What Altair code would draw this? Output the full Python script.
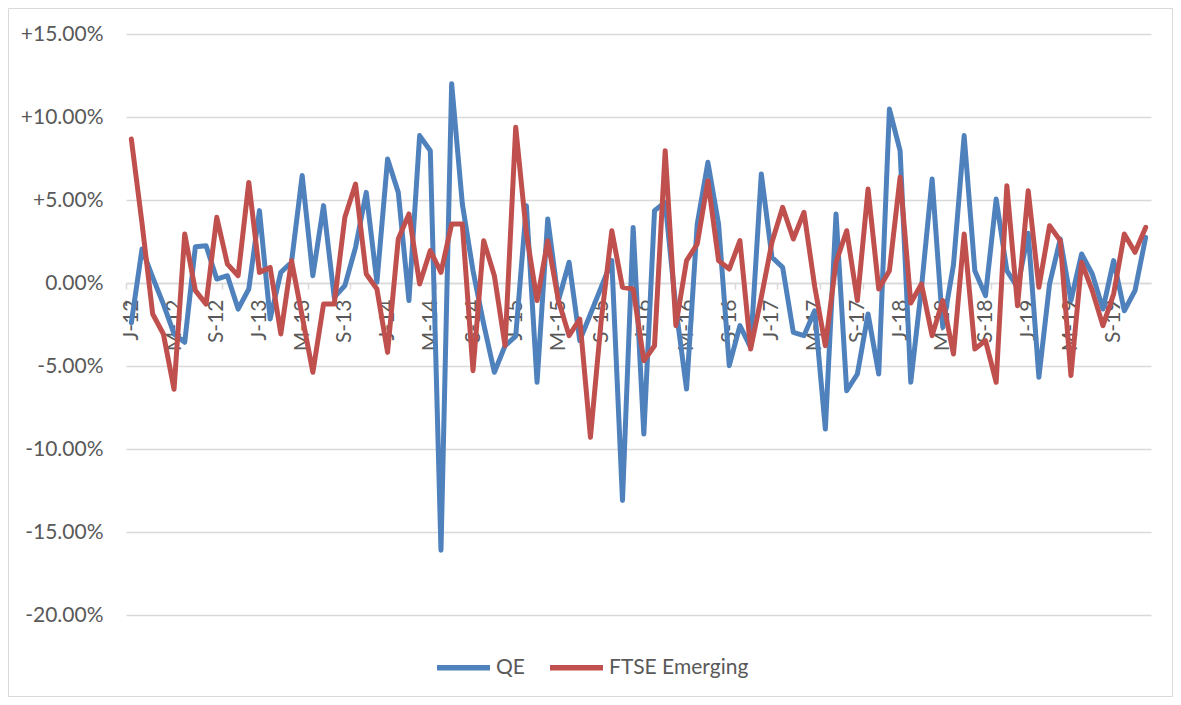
import altair as alt
import pandas as pd

month_abbr = ["Jan", "Feb", "Mar", "Apr", "May", "Jun", "Jul", "Aug", "Sep", "Oct", "Nov", "Dec"]
years = ["12", "13", "14", "15", "16", "17", "18", "19"]
categories = [m + "-" + y for y in years for m in month_abbr]

qe = [
    -2.4, 2.05, 0.34, -1.27, -3.07, -3.57, 2.19, 2.25, 0.24, 0.44, -1.57, -0.36,
    4.36, -2.17, 0.64, 1.25, 6.47, 0.44, 4.66, -0.86, -0.16, 2.15, 5.46, 0.04,
    7.47, 5.46, -1.06, 8.88, 7.97, -16.1, 12.0, 4.76, 0.74, -2.47, -5.38, -3.78,
    -3.2, 4.66, -5.98, 3.86, -1.06, 1.25, -3.47, -1.87, -0.26, 1.35, -13.1, 3.35,
    -9.1, 4.36, 4.86, -1.5, -6.39, 3.55, 7.27, 3.55, -4.98, -2.57, -3.88, 6.57,
    1.55, 0.94, -2.97, -3.17, -1.67, -8.8, 4.16, -6.49, -5.48, -1.87, -5.48, 10.48,
    7.97, -5.98, -0.3, 6.27, -2.67, 1.1, 8.88, 0.74, -0.76, 5.06, 0.74, -0.26,
    3.0, -5.68, -0.06, 2.65, -1.06, 1.75, 0.54, -1.57, 1.35, -1.67, -0.46, 2.75,
]
ftse = [
    8.67, 3.6, -1.87, -3.07, -6.4, 2.95, -0.46, -1.27, 3.96, 1.14, 0.44, 6.06,
    0.64, 0.94, -3.07, 1.35, -2.0, -5.38, -1.27, -1.27, 3.96, 5.96, 0.54, -0.36,
    -4.18, 2.65, 4.16, -0.06, 1.95, 0.64, 3.55, 3.55, -5.28, 2.55, 0.44, -3.78,
    9.38, 3.0, -1.06, 2.55, -1.06, -3.17, -2.17, -9.3, -2.3, 3.15, -0.26, -0.36,
    -4.68, -3.78, 7.97, -2.57, 1.35, 2.35, 6.16, 1.35, 0.84, 2.55, -3.98, -0.86,
    2.45, 4.56, 2.65, 4.26, -0.2, -3.78, 1.25, 3.15, -1.06, 5.66, -0.36, 0.74,
    6.37, -1.2, -0.06, -3.17, -1.06, -4.28, 2.95, -3.98, -3.47, -5.98, 5.86, -1.37,
    5.56, -0.26, 3.45, 2.55, -5.58, 1.25, -0.46, -2.57, -0.66, 2.95, 1.85, 3.35,
]
series_names = ["QE", "FTSE Emerging"]
series_colors = ["#4F81BD", "#C0504D"]
y_ticks = [15, 10, 5, 0, -5, -10, -15, -20]

df = pd.DataFrame({
    "month": categories * 2,
    "series": [series_names[0]] * len(qe) + [series_names[1]] * len(ftse),
    "value": qe + ftse,
})

W, H = 1025, 581
YMIN, YMAX = -20, 15
zero_offset = -H * (0 - YMIN) / (YMAX - YMIN)
FONT = "Lato"
TXT = "#595959"
GRID = "#d9d9d9"

x = alt.X(
    "month:N", sort=categories,
    scale=alt.Scale(type="band", paddingInner=0, paddingOuter=0),
    bandPosition=0.5,
    axis=alt.Axis(
        title=None, values=categories[::4],
        labelExpr="substring(datum.label, 0, 1) + '-' + substring(datum.label, 4, 6)",
        labelAngle=-90, labelFont=FONT, labelFontSize=21, labelColor=TXT,
        labelPadding=10, tickBand="extent", tickSize=6, tickColor=GRID, tickWidth=1.5,
        domainColor=GRID, domainWidth=1.5, offset=zero_offset, grid=False,
        labelOverlap=False,
    ),
)
y = alt.Y(
    "value:Q",
    scale=alt.Scale(domain=[YMIN, YMAX], nice=False, zero=False),
    axis=alt.Axis(
        title=None, values=y_ticks,
        labelExpr="(datum.value > 0 ? '+' : (datum.value < 0 ? '-' : '')) + format(abs(datum.value), '.2f') + '%'",
        domain=False, ticks=False, tickSize=0, labelPadding=23,
        gridColor=GRID, gridWidth=1.5,
        labelFont=FONT, labelFontSize=21, labelColor=TXT,
    ),
)
color = alt.Color(
    "series:N",
    scale=alt.Scale(domain=series_names, range=series_colors),
    legend=alt.Legend(
        title=None, orient="none", direction="horizontal",
        legendX=308, legendY=604, padding=0,
        symbolType="stroke", symbolSize=2809, symbolStrokeWidth=5.5,
        labelFont=FONT, labelFontSize=21, labelColor=TXT,
        labelOffset=3, columnPadding=14,
    ),
)

base = alt.Chart(df)
line_qe = base.transform_filter(alt.datum.series == series_names[0]).mark_line(
    strokeWidth=5, strokeJoin="round", strokeCap="round"
).encode(x=x, y=y, color=color)
line_ftse = base.transform_filter(alt.datum.series == series_names[1]).mark_line(
    strokeWidth=5, strokeJoin="round", strokeCap="round"
).encode(x=x, y=y, color=color)

frame = alt.Chart(pd.DataFrame({"a": [0]})).mark_rect(
    fillOpacity=0, stroke=GRID, strokeWidth=1
).encode(
    x=alt.value(-117.5), x2=alt.value(W + 21.5),
    y=alt.value(-25.5), y2=alt.value(H + 81.5),
)

chart = alt.layer(frame, line_qe, line_ftse).properties(
    width=W, height=H,
    autosize=alt.AutoSizeParams(type="none"),
    padding={"left": 118, "top": 26, "right": 22, "bottom": 82},
).configure_view(stroke="transparent")

chart.save("out.html", embed_options={"renderer": "svg", "actions": False})
